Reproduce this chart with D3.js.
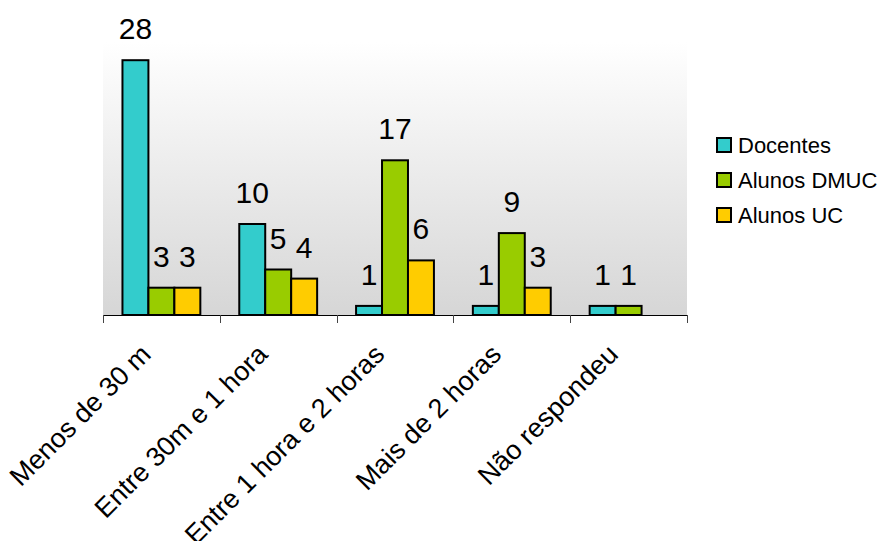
<!DOCTYPE html>
<html>
<head>
<meta charset="utf-8">
<script src="https://cdn.jsdelivr.net/npm/d3@7"></script>
<style>
  html, body { margin: 0; padding: 0; background: #fff; }
  svg { display: block; font-family: "Liberation Sans", Arial, sans-serif; }
</style>
</head>
<body>
<svg id="chart" width="887" height="541"></svg>
<script>
const categories = ["Menos de 30 m", "Entre 30m e 1 hora", "Entre 1 hora e 2 horas", "Mais de 2 horas", "Não respondeu"];
const seriesNames = ["Docentes", "Alunos DMUC", "Alunos UC"];
const docentes = [28, 10, 1, 1, 1];
const alunosDMUC = [3, 5, 17, 9, 1];
const alunosUC = [3, 4, 6, 3, 0];
const colors = ["#33CCCC", "#99CC00", "#FFCC00"];
const yMax = 30;

const seriesValues = [docentes, alunosDMUC, alunosUC];

const svg = d3.select("#chart");
const plot = { left: 103, right: 687, top: 42, bottom: 315 };

const x0 = d3.scaleBand().domain(categories).range([plot.left, plot.right]).paddingInner(0).paddingOuter(0);
const bw = x0.bandwidth();
const barW = bw / (seriesNames.length + 1.5);
const x1 = d3.scaleBand().domain(seriesNames)
  .range([barW * 0.75, barW * 0.75 + barW * seriesNames.length]).padding(0);
const y = d3.scaleLinear().domain([0, yMax]).range([plot.bottom, plot.top]);

// gradient background
const defs = svg.append("defs");
const grad = defs.append("linearGradient").attr("id", "bg").attr("x1", 0).attr("y1", 0).attr("x2", 0).attr("y2", 1);
grad.append("stop").attr("offset", "0%").attr("stop-color", "#ffffff");
grad.append("stop").attr("offset", "100%").attr("stop-color", "#d6d6d6");
svg.append("rect")
  .attr("x", plot.left).attr("y", plot.top)
  .attr("width", plot.right - plot.left).attr("height", plot.bottom - plot.top)
  .attr("fill", "url(#bg)");

// bars
const data = [];
categories.forEach((c, i) => {
  seriesNames.forEach((s, j) => {
    data.push({ cat: c, series: s, value: seriesValues[j][i], color: colors[j] });
  });
});
const shown = data.filter(d => d.value > 0);

svg.append("g").selectAll("rect").data(shown).join("rect")
  .attr("x", d => x0(d.cat) + x1(d.series))
  .attr("y", d => y(d.value))
  .attr("width", x1.bandwidth())
  .attr("height", d => y(0) - y(d.value))
  .attr("fill", d => d.color)
  .attr("stroke", "#000")
  .attr("stroke-width", 2);

// value labels
svg.append("g").selectAll("text").data(shown).join("text")
  .attr("x", d => x0(d.cat) + x1(d.series) + x1.bandwidth() / 2)
  .attr("y", d => y(d.value) - 21)
  .attr("text-anchor", "middle")
  .attr("font-size", 30)
  .attr("fill", "#000")
  .text(d => d.value);

// x axis
const xAxis = svg.append("g").attr("transform", `translate(0,${plot.bottom})`);
xAxis.append("line").attr("x1", plot.left).attr("x2", plot.right).attr("y1", 0.5).attr("y2", 0.5)
  .attr("stroke", "#000").attr("stroke-width", 1);
const tickPos = categories.map(c => x0(c)).concat([plot.right]);
xAxis.selectAll("line.tick").data(tickPos).join("line").attr("class", "tick")
  .attr("x1", d => Math.round(d) + 0.5).attr("x2", d => Math.round(d) + 0.5)
  .attr("y1", 0).attr("y2", 8)
  .attr("stroke", "#444").attr("stroke-width", 1);

svg.append("g").selectAll("text").data(categories).join("text")
  .attr("transform", d => `translate(${x0(d) + bw / 2 - 9},${356}) rotate(-45)`)
  .attr("text-anchor", "end")
  .attr("font-size", 27)
  .attr("fill", "#000")
  .text(d => d);

// legend
const legend = svg.append("g");
const legY = [145, 180, 215];
seriesNames.forEach((s, i) => {
  legend.append("rect")
    .attr("x", 717).attr("y", legY[i] - 7)
    .attr("width", 14).attr("height", 14)
    .attr("fill", colors[i]).attr("stroke", "#000").attr("stroke-width", 2);
  legend.append("text")
    .attr("x", 738).attr("y", legY[i])
    .attr("dy", "0.36em")
    .attr("font-size", 22)
    .attr("fill", "#000")
    .text(s);
});
</script>
</body>
</html>
